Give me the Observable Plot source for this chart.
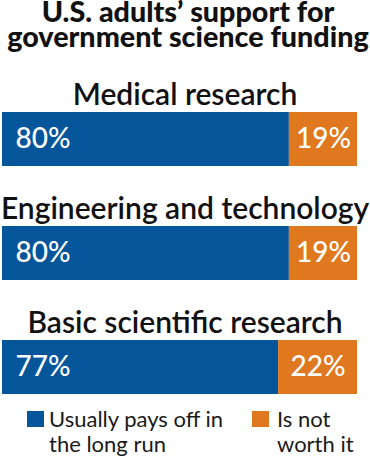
<!DOCTYPE html>
<html><head><meta charset="utf-8">
<script src="https://cdn.jsdelivr.net/npm/d3@7"></script>
<script src="https://cdn.jsdelivr.net/npm/@observablehq/plot@0.6"></script>
<style>
body{margin:0;background:#fff;font-family:Lato,"Noto Sans",sans-serif;}
#wrap{position:relative;width:370px;height:458px;overflow:hidden;}
.tl{position:absolute;left:3px;width:370px;text-align:center;font-weight:900;font-size:28.7px;line-height:25px;color:#111;white-space:nowrap;}
#chart{position:absolute;top:58px;left:0;}
.leg{position:absolute;top:406px;font-size:22px;line-height:25px;font-weight:400;color:#1a1a1a;white-space:nowrap;}
.sw{position:absolute;top:411px;width:17px;height:16px;}
</style></head>
<body><div id="wrap">
<div class="tl" id="t0" style="top:-1px"></div>
<div class="tl" id="t1" style="top:24px"></div>
<div id="chart"></div>
<div class="sw" id="sw0" style="left:27px"></div>
<div class="leg" id="lg0" style="left:49px"></div>
<div class="sw" id="sw1" style="left:252px"></div>
<div class="leg" id="lg1" style="left:277px"></div>
</div>
<script>
const titleLines = ["U.S. adults’ support for", "government science funding"];
const categories = ["Medical research", "Engineering and technology", "Basic scientific research"];
const paysOff = [80, 80, 77];
const notWorth = [19, 19, 22];
const responses = ["Usually pays off in the long run", "Is not worth it"];
const legendLines = [["Usually pays off in", "the long run"], ["Is not", "worth it"]];
const colors = ["#04559a", "#e0781f"];

const rows = [];
categories.forEach((c, i) => {
  rows.push({category: c, response: responses[0], value: paysOff[i]});
  rows.push({category: c, response: responses[1], value: notWorth[i]});
});

const chart = Plot.plot({
  width: 370,
  height: 340,
  marginLeft: 2,
  marginRight: 13,
  marginTop: 0,
  marginBottom: 0,
  style: {fontFamily: "Lato, 'Noto Sans', sans-serif", background: "#fff"},
  x: {domain: [0, 99], axis: null},
  y: {domain: categories, range: [53, 336], paddingInner: 0.53, paddingOuter: 0, axis: null},
  color: {domain: responses, range: colors},
  marks: [
    Plot.barX(rows, {x: "value", y: "category", fill: "response"}),
    Plot.text(categories, {y: d => d, text: d => d, frameAnchor: "middle", dx: 5, dy: -35, lineAnchor: "bottom", fontSize: 30, fontWeight: 600, fill: "#111"}),
    Plot.text(rows.filter(d => d.response === responses[0]), {x: 0, y: "category", text: d => d.value + "%", textAnchor: "start", dx: 13, fill: "white", fontSize: 28, fontWeight: 500}),
    Plot.text(rows, Plot.stackX({x: "value", y: "category", text: d => d.response === responses[1] ? d.value + "%" : "", fill: "white", fontSize: 28, fontWeight: 500}))
  ]
});
document.getElementById("chart").appendChild(chart);
titleLines.forEach((t, i) => { document.getElementById("t" + i).textContent = t; });
[0, 1].forEach(i => {
  document.getElementById("sw" + i).style.background = colors[i];
  document.getElementById("lg" + i).innerHTML = legendLines[i].join("<br>");
});
</script>
</body></html>
